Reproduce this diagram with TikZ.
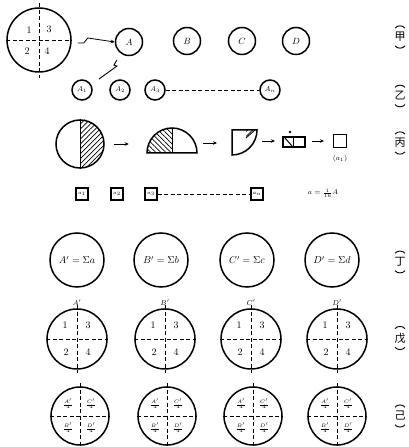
\documentclass[tikz,border=0pt]{standalone}
\usepackage{fontspec}
\newfontfamily\cjk{Noto Sans CJK SC}
\usetikzlibrary{arrows.meta, patterns.meta}

\begin{document}
\begin{tikzpicture}[x=1pt, y=1pt,
  ring/.style={draw, circle, line width=1.5pt, inner sep=0pt},
  tiny/.style={ring, minimum size=20pt, font=\scriptsize},
  mid/.style={ring, minimum size=27pt, font=\small},
  wide/.style={ring, minimum size=54pt, font=\normalsize},
  quad/.style={ring, minimum size=60pt},
  cell/.style={draw, line width=1.2pt, minimum size=12pt, inner sep=0pt, font=\tiny},
  arrow/.style={-{Stealth[length=4pt, width=3.5pt]}, line width=0.8pt},
  cross/.style={line width=0.9pt, dash pattern=on 4pt off 2.5pt},
  hatch/.style={pattern={Lines[angle=#1, distance=3.5pt, line width=0.7pt]}},
  tag/.style={font=\cjk\fontsize{11}{13}\selectfont, inner sep=0pt},
  brace/.style={line width=0.9pt}
]
\useasboundingbox (0,0) rectangle (409,447);

% Row 1: the whole block and its four parts
\node[ring, minimum size=64pt] (whole) at (39,407) {};
\draw[cross] ([yshift=4]whole.north) -- ([yshift=-5]whole.south);
\draw[cross] (whole.west) -- (whole.east);
\node (w1) at (29,417) {$1$};
\node (w3) at (49,418) {$3$};
\node (w2) at (27,396) {$2$};
\node (w4) at (47,396) {$4$};
\node[mid] (pa) at (129,405) {$A$};
\node[mid] (pb) at (187,406) {$B$};
\node[mid] (pc) at (242,406) {$C$};
\node[mid] (pd) at (296,406) {$D$};
\draw[arrow] ([shift={(6,-3)}]whole.east) -- ++(6,0) -- ++(4,5) -- (pa.west);

% Row 2: sub-blocks of A
\node[tiny] (p1) at (82,357) {$A_1$};
\node[tiny] (p2) at (120,357) {$A_2$};
\node[tiny] (p3) at (155,357) {$A_3$};
\node[tiny] (pn) at (270,357) {$A_n$};
\draw[line width=0.9pt] ([shift={(-2,-8)}]pa.south west) -- ++(-3,-5) -- ++(3,-1) -- ++(-18,-13);
\draw[cross] (p3) -- (pn);

% Row 3: splitting down to one sample
\node[ring, minimum size=48pt] (half) at (80,303) {};
\fill[hatch=45] (half.north) arc (90:-90:24) -- cycle;
\draw[line width=1pt] (half.north) -- (half.south);
\draw[arrow] ([xshift=9]half.east) -- ++(15,0);

\coordinate (dome) at (172,294);
\fill[hatch=-45] (dome) -- ++(-25,0) arc (180:90:25) -- cycle;
\draw[line width=1pt] (dome) -- ++(0,25);
\draw[line width=1.5pt] ([xshift=-25]dome) arc (180:0:25) -- cycle;
\draw[arrow] (203,304) -- (217,304);

\coordinate (corner) at (232,317);
\fill[hatch=45] (246,317) -- (255,317) -- (246,309) -- cycle;
\draw[line width=0.8pt] (255,317) -- (246,309);
\draw[line width=1.5pt] (corner) -- ++(25,0) arc (0:-90:25) -- cycle;
\draw[arrow] (262,306) -- (275,306);

\node[cell, minimum width=22pt, minimum height=10pt] (slab) at (294,305) {};
\draw[line width=1pt] (293,310) -- (293,300);
\draw[line width=1pt] (285,309) -- (292,301);
\fill (290,315) circle (1.3);
\draw[arrow] (312,306) -- (324,306);
\node[cell, minimum size=13pt] (one) at (340,306) {};
\node[font=\scriptsize] (onetag) at (340,288) {$(a_1)$};

% Row 4: the samples
\node[cell] (c1) at (82,253) {$a_1$};
\node[cell] (c2) at (117,253) {$a_2$};
\node[cell] (c3) at (151,253) {$a_3$};
\node[cell] (cn) at (257,253) {$a_n$};
\draw[cross] (c3) -- (cn);
\node[font=\scriptsize] (ratio) at (323,254) {$a=\frac{1}{16}A$};

% Row 5: composites
\node[wide] (sa) at (77,187) {$A'=\Sigma a$};
\node[wide] (sb) at (161,187) {$B'=\Sigma b$};
\node[wide] (sc) at (247,187) {$C'=\Sigma c$};
\node[wide] (sd) at (332,187) {$D'=\Sigma d$};

% Row 6: each composite split in four
\foreach \x/\n/\t in {77/a/A, 165/b/B, 251/c/C, 337/d/D} {
  \node[quad] (q\n) at (\x,108) {};
  \node[font=\scriptsize] (q\n-name) at ([yshift=6]q\n.north) {$\t'$};
  \draw[cross] ([yshift=3]q\n.north) -- ([yshift=-3]q\n.south);
  \draw[cross] (q\n.west) -- (q\n.east);
  \node (q\n-1) at ([shift={(-12,14)}]q\n.center) {$1$};
  \node (q\n-3) at ([shift={(11,14)}]q\n.center) {$3$};
  \node (q\n-2) at ([shift={(-11,-13)}]q\n.center) {$2$};
  \node (q\n-4) at ([shift={(11,-13)}]q\n.center) {$4$};
}

% Row 7: quarters recombined
\foreach \x/\n in {80/a, 167/b, 253/c, 337/d} {
  \node[ring, minimum size=58pt] (m\n) at (\x,31) {};
  \draw[cross] ([yshift=3]m\n.north) -- (m\n.south);
  \draw[cross] (m\n.west) -- (m\n.east);
  \node[font=\scriptsize] (m\n-a) at ([shift={(-12,12)}]m\n.center) {$\frac{A'}{4}$};
  \node[font=\scriptsize] (m\n-c) at ([shift={(11,12)}]m\n.center) {$\frac{C'}{4}$};
  \node[font=\scriptsize] (m\n-b) at ([shift={(-12,-12)}]m\n.center) {$\frac{B'}{4}$};
  \node[font=\scriptsize] (m\n-d) at ([shift={(11,-12)}]m\n.center) {$\frac{D'}{4}$};
}

% Step labels, bracketed vertically
\foreach \y/\c [count=\i] in {410/甲, 351/乙, 304/丙, 185/丁, 109/戊, 31/己} {
  \node[tag] (t\i) at (400,\y) {\c};
  \draw[brace] ([shift={(-5,4)}]t\i.north) to[bend left=50] ([shift={(5,4)}]t\i.north);
  \draw[brace] ([shift={(-5,-4)}]t\i.south) to[bend right=50] ([shift={(5,-4)}]t\i.south);
}
\end{tikzpicture}
\end{document}
